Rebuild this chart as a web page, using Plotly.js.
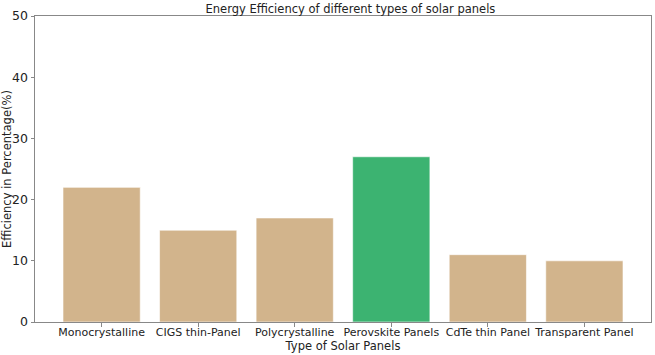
<!DOCTYPE html>
<html>
<head>
<meta charset="utf-8">
<script src="https://cdn.plot.ly/plotly-3.0.1.min.js"></script>
<style>html,body{margin:0;padding:0;background:#fff;}#chart{width:655px;height:355px;}</style>
</head>
<body>
<div id="chart"></div>
<script>
const categories = ["Monocrystalline", "CIGS thin-Panel", "Polycrystalline", "Perovskite Panels", "CdTe thin Panel", "Transparent Panel"];
const efficiency = [22, 15, 17, 27, 11, 10];
const barColors = ["#D2B48C", "#D2B48C", "#D2B48C", "#3CB371", "#D2B48C", "#D2B48C"];
const yTicks = [0, 10, 20, 30, 40, 50];

const font = "DejaVu Sans, Liberation Sans, sans-serif";
const trace = {
  type: "bar",
  x: categories.map((c, i) => i),
  y: efficiency,
  width: 0.8,
  marker: {color: barColors, line: {color: "rgba(255,255,255,0.6)", width: 1}},
  hoverinfo: "none"
};
const layout = {
  width: 655, height: 355,
  margin: {l: 35, r: 4, t: 16, b: 33},
  paper_bgcolor: "#fff", plot_bgcolor: "#fff",
  font: {family: font, size: 11.5, color: "#222"},
  title: {text: "Energy Efficiency of different types of solar panels", x: 0.535, xanchor: "center", y: 0.975, yanchor: "middle", font: {family: font, size: 11.5, color: "#222"}},
  xaxis: {
    range: [-0.69, 5.69],
    tickmode: "array", tickvals: categories.map((c, i) => i), ticktext: categories,
    tickangle: 0,
    ticklabelstandoff: -4,
    ticks: "outside", ticklen: 3.5, tickcolor: "#888", tickwidth: 1,
    showgrid: false, zeroline: false,
    showline: true, linecolor: "#888", linewidth: 1, mirror: true,
    tickfont: {family: font, size: 11, color: "#222"},
    title: {text: "Type of Solar Panels", standoff: 0, font: {family: font, size: 11.5, color: "#222"}}
  },
  yaxis: {
    range: [0, 50],
    tickmode: "array", tickvals: yTicks,
    ticks: "outside", ticklen: 3.5, tickcolor: "#888", tickwidth: 1,
    showgrid: false, zeroline: false,
    showline: true, linecolor: "#888", linewidth: 1, mirror: true,
    tickfont: {family: font, size: 12.5, color: "#222"},
    title: {text: "Efficiency in Percentage(%)", standoff: 2, font: {family: font, size: 11.5, color: "#222"}}
  },
  showlegend: false
};
Plotly.newPlot("chart", [trace], layout, {displayModeBar: false, staticPlot: true});
</script>
</body>
</html>
